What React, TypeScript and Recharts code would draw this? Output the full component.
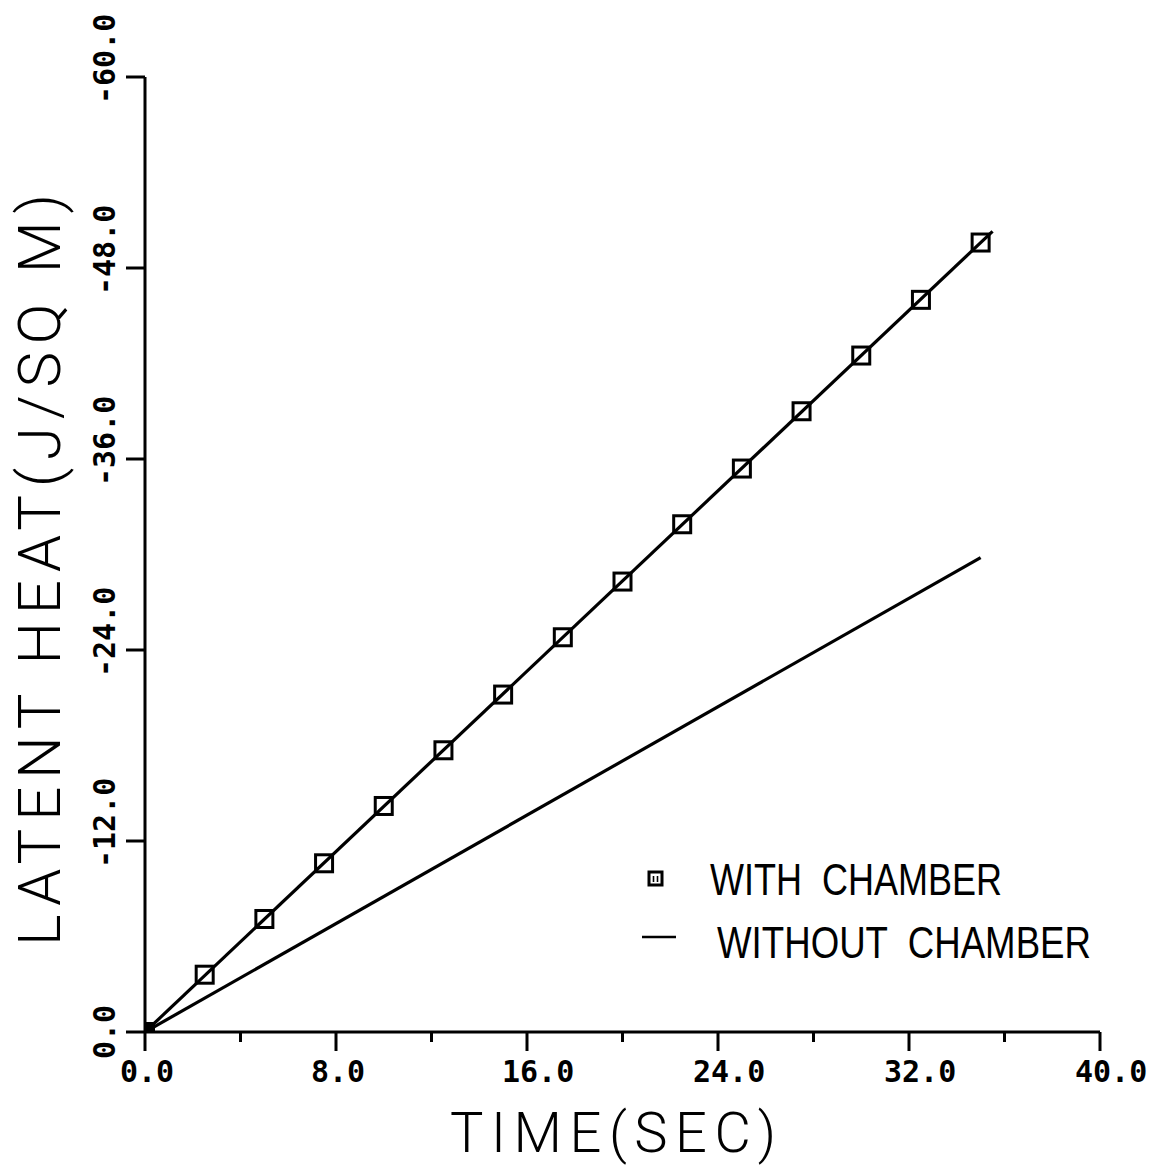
import React from 'react';
import { ComposedChart, Line, Scatter, XAxis, YAxis, Legend } from 'recharts';

// ---- data ----
const chamberTime = [0, 2.5, 5, 7.5, 10, 12.5, 15, 17.5, 20, 22.5, 25, 27.5, 30, 32.5, 35];
const chamberHeat = [0, -3.6, -7.1, -10.6, -14.2, -17.7, -21.2, -24.8, -28.3, -31.9, -35.4, -39.0, -42.5, -46.0, -49.6];
const chamberFitTime = [0, 35.5];
const chamberFitHeat = [0, -50.3];
const noChamberTime = [0, 35];
const noChamberHeat = [0, -29.8];

const xTicks = [0, 4, 8, 12, 16, 20, 24, 28, 32, 36, 40];
const xMajor = [0, 8, 16, 24, 32, 40];
const xTickLabels = ['0.0', '8.0', '16.0', '24.0', '32.0', '40.0'];
const yTicks = [0, -12, -24, -36, -48, -60];
const yTickLabels = ['0.0', '-12.0', '-24.0', '-36.0', '-48.0', '-60.0'];

const seriesNames = ['WITH  CHAMBER', 'WITHOUT  CHAMBER'];
const xTitle = 'TIME(SEC)';
const yTitle = 'LATENT HEAT(J/SQ M)';

const chamberData = chamberTime.map((t, i) => ({ t, q: chamberHeat[i] }));
const chamberFitData = chamberFitTime.map((t, i) => ({ t, q: chamberFitHeat[i] }));
const noChamberData = noChamberTime.map((t, i) => ({ t, q: noChamberHeat[i] }));

const TICK_FONT = "'DejaVu Sans Mono', monospace";
const TITLE_FONT = "Roboto, 'DejaVu Sans', sans-serif";
const LEGEND_FONT = "'Liberation Sans', Arial, sans-serif";

const XTick = (props: any) => {
  const { x, y, payload } = props;
  const v = payload.value;
  const mi = xMajor.indexOf(v);
  const major = mi >= 0;
  return (
    <g>
      <line x1={x} x2={x} y1={y} y2={y + (major ? 19 : 10)} stroke="#000" strokeWidth={3} />
      {major && (
        <text x={x - 25} y={y + 50} textAnchor="start" fontFamily={TICK_FONT} fontWeight="bold" fontSize={30} fill="#000">
          {xTickLabels[mi]}
        </text>
      )}
    </g>
  );
};

const YTick = (props: any) => {
  const { x, y, payload } = props;
  const i = yTicks.indexOf(payload.value);
  return (
    <g>
      <line x1={x} x2={x - 19} y1={y} y2={y} stroke="#000" strokeWidth={3} />
      <text
        transform={`translate(${x - 30}, ${y + 27}) rotate(-90)`}
        textAnchor="start"
        fontFamily={TICK_FONT}
        fontWeight="bold"
        fontSize={30}
        fill="#000"
      >
        {yTickLabels[i]}
      </text>
    </g>
  );
};

const Square = (props: any) => {
  const { cx, cy, payload } = props;
  if (cx == null || cy == null) return <g />;
  const origin = payload && payload.t === 0;
  return (
    <rect
      x={cx - 8.5}
      y={cy - 8.5}
      width={17}
      height={17}
      fill={origin ? '#000' : 'none'}
      stroke="#000"
      strokeWidth={3}
    />
  );
};

const LegendContent = () => (
  <svg width={520} height={160} style={{ display: 'block', overflow: 'visible' }}>
    <rect x={29} y={32} width={13} height={13} fill="none" stroke="#000" strokeWidth={3} />
    <line x1={33.5} x2={33.5} y1={36} y2={42} stroke="#000" strokeWidth={1.6} />
    <line x1={37.5} x2={37.5} y1={36} y2={42} stroke="#000" strokeWidth={1.6} />
    <text
      transform="translate(90, 55) scale(1, 1.25)"
      x={0}
      y={0}
      fontFamily={LEGEND_FONT}
      fontSize={36}
      textLength={292}
      lengthAdjust="spacingAndGlyphs"
      style={{ whiteSpace: 'pre' }}
      fill="#000"
    >
      {seriesNames[0]}
    </text>
    <line x1={22} x2={56} y1={97} y2={97} stroke="#000" strokeWidth={2.5} />
    <text
      transform="translate(97, 118) scale(1, 1.25)"
      x={0}
      y={0}
      fontFamily={LEGEND_FONT}
      fontSize={36}
      textLength={374}
      lengthAdjust="spacingAndGlyphs"
      style={{ whiteSpace: 'pre' }}
      fill="#000"
    >
      {seriesNames[1]}
    </text>
  </svg>
);

export default function App() {
  return (
    <div style={{ position: 'absolute', left: 0, top: 0, width: 1161, height: 1166, background: '#fff' }}>
      <ComposedChart width={1161} height={1166} margin={{ top: 77, right: 61, bottom: 0, left: 0 }}>
        <XAxis
          dataKey="t"
          type="number"
          domain={[0, 40]}
          ticks={xTicks}
          interval={0}
          height={134}
          tickSize={0}
          tickMargin={0}
          tickLine={false}
          axisLine={{ stroke: '#000', strokeWidth: 3 }}
          tick={<XTick />}
          allowDataOverflow
          label={{
            content: () => (
              <text
                x={450}
                y={1152}
                fontFamily={TITLE_FONT}
                fontWeight={300}
                fontSize={56}
                textLength={326}
                lengthAdjust="spacing"
                fill="#000"
              >
                {xTitle}
              </text>
            ),
          }}
        />
        <YAxis
          dataKey="q"
          type="number"
          domain={[-60, 0]}
          reversed
          ticks={yTicks}
          interval={0}
          width={145}
          tickSize={0}
          tickMargin={0}
          tickLine={false}
          axisLine={{ stroke: '#000', strokeWidth: 3 }}
          tick={<YTick />}
          allowDataOverflow
          label={{
            content: () => (
              <text
                transform="translate(60, 946) rotate(-90)"
                fontFamily={TITLE_FONT}
                fontWeight={300}
                fontSize={60}
                textLength={752}
                lengthAdjust="spacing"
                style={{ whiteSpace: 'pre' }}
                fill="#000"
              >
                {yTitle}
              </text>
            ),
          }}
        />
        <Line
          data={chamberFitData}
          dataKey="q"
          stroke="#000"
          strokeWidth={3.2}
          dot={false}
          activeDot={false}
          legendType="none"
          isAnimationActive={false}
        />
        <Line
          data={noChamberData}
          dataKey="q"
          name={seriesNames[1]}
          stroke="#000"
          strokeWidth={3.2}
          dot={false}
          activeDot={false}
          legendType="line"
          isAnimationActive={false}
        />
        <Scatter
          data={chamberData}
          dataKey="q"
          name={seriesNames[0]}
          shape={<Square />}
          legendType="square"
          isAnimationActive={false}
        />
        <Legend
          layout="vertical"
          align="center"
          verticalAlign="middle"
          content={<LegendContent />}
          wrapperStyle={{ left: 620, top: 840, width: 520, height: 160 }}
        />
      </ComposedChart>
    </div>
  );
}
